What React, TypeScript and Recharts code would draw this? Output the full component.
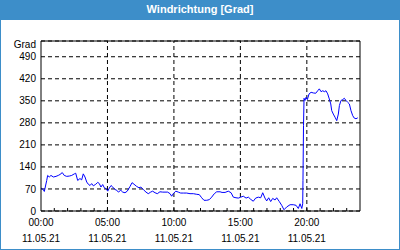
import React from 'react';
import { LineChart, Line, XAxis, YAxis, CartesianGrid, ReferenceLine } from 'recharts';

// wind direction samples (hour of day, degrees)
const hours = [
  0.0, 0.17, 0.25, 0.43, 0.5, 0.62, 0.75, 0.93, 1.13, 1.3, 1.43, 1.6, 1.75, 1.93, 2.13, 2.31,
  2.51, 2.61, 2.76, 2.93, 3.06, 3.18, 3.31, 3.44, 3.56, 3.69, 3.81, 3.94, 4.12, 4.27, 4.39, 4.51,
  4.64, 4.76, 4.89, 5.02, 5.14, 5.27, 5.4, 5.57, 5.7, 5.82, 6.0, 6.15, 6.32, 6.49, 6.7, 6.85,
  7.0, 7.2, 7.37, 7.52, 7.7, 7.9, 8.07, 8.25, 8.4, 8.58, 8.75, 8.95, 9.16, 9.33, 9.53, 9.71,
  9.83, 9.95, 10.14, 10.33, 10.51, 10.71, 10.96, 11.21, 11.46, 11.72, 11.91, 12.09, 12.26, 12.47, 12.66, 12.84,
  13.04, 13.22, 13.47, 13.62, 13.85, 14.09, 14.3, 14.47, 14.67, 14.85, 15.03, 15.22, 15.43, 15.6, 15.78, 15.97,
  16.15, 16.35, 16.53, 16.68, 16.85, 16.98, 17.13, 17.28, 17.43, 17.61, 17.73, 17.93, 18.11, 18.28, 18.49, 18.74,
  18.98, 19.19, 19.36, 19.49, 19.62, 19.69, 19.71, 19.75, 19.79, 19.86, 19.94, 20.04, 20.17, 20.32, 20.49, 20.67,
  20.82, 20.94, 21.07, 21.2, 21.32, 21.44, 21.57, 21.69, 21.8, 21.87, 21.99, 22.12, 22.25, 22.37, 22.45, 22.57,
  22.7, 22.82, 22.95, 23.08, 23.2, 23.32, 23.45, 23.57, 23.7, 23.83,
];
const degrees = [
  73, 68, 62, 97, 113, 108, 113, 108, 110, 113, 116, 122, 113, 110, 111, 113,
  118, 120, 97, 103, 99, 118, 108, 92, 85, 81, 87, 80, 85, 91, 87, 76,
  84, 74, 71, 63, 73, 81, 76, 68, 66, 60, 66, 60, 58, 63, 78, 90,
  85, 78, 74, 76, 68, 60, 55, 60, 63, 58, 55, 61, 60, 60, 60, 55,
  47, 55, 63, 60, 57, 57, 57, 55, 55, 53, 52, 42, 34, 34, 36, 44,
  55, 61, 61, 59, 59, 63, 58, 44, 42, 41, 44, 47, 41, 44, 37, 31,
  41, 44, 42, 58, 41, 32, 42, 30, 40, 35, 42, 30, 18, 4, 13, 20,
  20, 18, 8, 23, 8, 23, 97, 271, 358, 351, 361, 354, 372, 377, 375, 374,
  382, 388, 379, 382, 379, 382, 372, 356, 340, 319, 308, 298, 287, 308, 335, 351,
  354, 358, 351, 345, 340, 319, 303, 295, 293, 296,
];

const gradTicks = [0, 70, 140, 210, 280, 350, 420, 490, 540];
const compassTicks = [0, 45, 90, 135, 180, 225, 270, 315, 360, 405, 450, 495, 540];
const compassLabels = ['N', 'NE', 'E', 'SE', 'S', 'SW', 'W', 'NW', 'N', 'NE', 'E', 'SE', 'S'];
const hourTicks = [0, 1, 2, 3, 4, 5, 6, 7, 8, 9, 10, 11, 12, 13, 14, 15, 16, 17, 18, 19, 20, 21, 22, 23, 24];
const labelHours = [0, 5, 10, 15, 20];
const gridHours = [5, 10, 15, 20];
const dateLabel = '11.05.21';
const title = 'Windrichtung [Grad]';
const unit = 'Grad';

const data = hours.map((h, i) => ({ h, deg: degrees[i] }));

const FONT = '"Liberation Sans", Arial, sans-serif';
const BLUE = '#3d8ec9';

function HourTick(props: any) {
  const { x, y, payload } = props;
  const h = payload.value as number;
  const hh = String(h).padStart(2, '0') + ':00';
  return (
    <g>
      {h > 0 && h < 24 && <line x1={x} x2={x} y1={y} y2={y - 3} stroke="#000" />}
      {labelHours.includes(h) && (
        <>
          <text x={x} y={y + 15} textAnchor="middle" fontSize={10} fontFamily={FONT} fill="#000">{hh}</text>
          <text x={x} y={y + 31} textAnchor="middle" fontSize={10} fontFamily={FONT} fill="#000">{dateLabel}</text>
        </>
      )}
    </g>
  );
}

function GradTick(props: any) {
  const { x, y, payload } = props;
  const v = payload.value as number;
  return (
    <text x={x} y={v === 540 ? y + 3.5 : y} dy="0.355em" textAnchor="end" fontSize={10} fontFamily={FONT} fill="#000">
      {v === 540 ? unit : v}
    </text>
  );
}

export default function App() {
  return (
    <div style={{ position: 'relative', width: 400, height: 250 }}>
      <style>{'body{margin:0}'}</style>
      <div style={{ position: 'absolute', inset: 0, border: `1px solid ${BLUE}`, boxSizing: 'border-box' }} />
      <div
        style={{
          position: 'absolute', left: 0, top: 0, width: 400, height: 20, background: BLUE,
          color: '#fff', fontFamily: FONT, fontWeight: 'bold', fontSize: 11, textAlign: 'center', lineHeight: '19px',
        }}
      >
        {title}
      </div>
      <div style={{ position: 'absolute', left: 0, top: 0 }}>
        <LineChart width={400} height={250} data={data} margin={{ top: 41, right: 0, bottom: 0, left: 0 }}>
          <CartesianGrid vertical={false} stroke="#000" strokeDasharray="4 3" />
          <XAxis
            dataKey="h"
            type="number"
            domain={[0, 24]}
            ticks={hourTicks}
            interval={0}
            height={39}
            tickSize={0}
            tickMargin={0}
            tickLine={false}
            axisLine={{ stroke: '#000' }}
            tick={<HourTick />}
          />
          <YAxis
            domain={[0, 540]}
            ticks={gradTicks}
            interval={0}
            width={41}
            tickSize={0}
            tickMargin={5}
            tickLine={false}
            axisLine={{ stroke: '#000' }}
            tick={<GradTick />}
          />
          <YAxis
            yAxisId="dir"
            orientation="right"
            domain={[0, 540]}
            ticks={compassTicks}
            interval={0}
            width={40}
            tickSize={4}
            tickMargin={2}
            tickLine={{ stroke: '#000' }}
            axisLine={{ stroke: '#000' }}
            tickFormatter={(v: number) => compassLabels[compassTicks.indexOf(v)]}
            tick={{ fill: '#000', fontSize: 10, fontFamily: FONT }}
          />
          {gridHours.map((g) => (
            <ReferenceLine key={g} x={g} stroke="#000" strokeDasharray="4 3" />
          ))}
          <ReferenceLine y={540} stroke="#000" />
          <Line
            type="linear"
            dataKey="deg"
            stroke="#0000ff"
            strokeWidth={1}
            dot={false}
            isAnimationActive={false}
          />
        </LineChart>
      </div>
    </div>
  );
}
